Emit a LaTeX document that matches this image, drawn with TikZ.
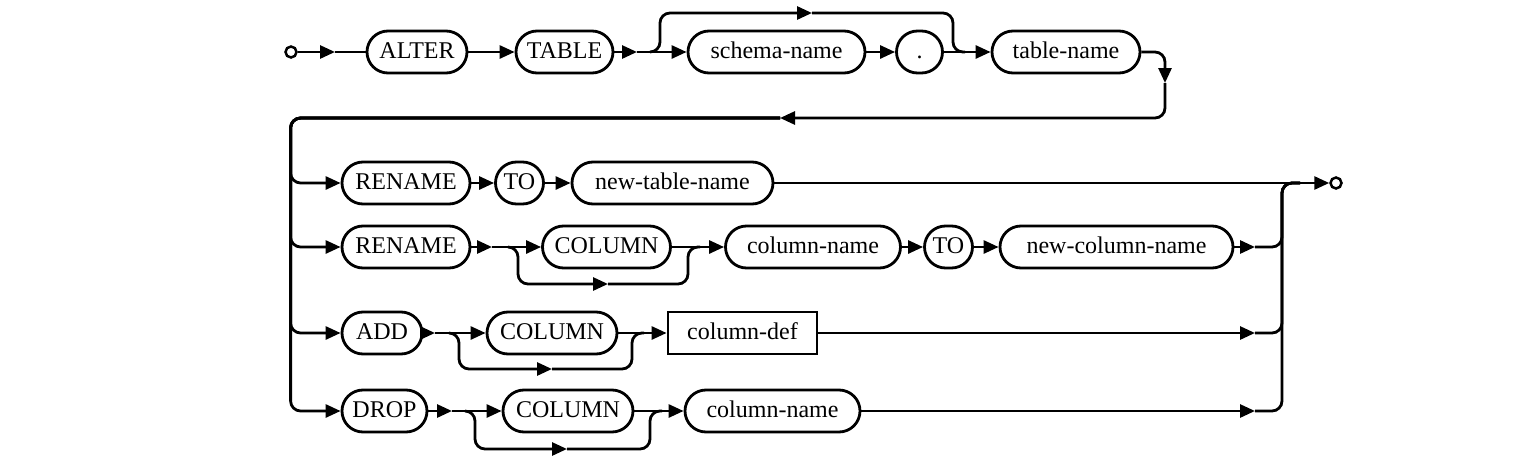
\documentclass[tikz,border=0pt]{standalone}
\usepackage{fontspec}
\setmainfont{Liberation Serif}
\usetikzlibrary{arrows.meta}
\tikzset{
  term/.style={draw, line width=2.8pt, rounded corners=21pt, minimum height=42pt, inner sep=0pt, text height=17.5pt, text depth=4pt, font=\fontsize{24pt}{28pt}\selectfont},
  nonterm/.style={draw, line width=2.8pt, rectangle, minimum height=42pt, inner sep=0pt, text height=17.5pt, text depth=4pt, font=\fontsize{24pt}{28pt}\selectfont},
  endpt/.style={draw, circle, line width=2.5pt, minimum size=11pt, inner sep=0pt},
  wire/.style={line width=2.8pt, rounded corners=10pt},
  arr/.style={wire, -{Triangle[length=15pt,width=13pt]}},
}
\begin{document}
\begin{tikzpicture}[x=1pt,y=-1pt]
\useasboundingbox (0,0) rectangle (1535,474);
% ---------- row 0 ----------
\node[endpt] (start) at (291,52) {};
\coordinate (a1) at (335,52);
\node[term, minimum width=100pt] (alter) at (417,52) {ALTER};
\node[term, minimum width=97pt] (table) at (564.5,52) {TABLE};
\coordinate (a2) at (637,52);
\node[term, minimum width=177pt] (schema) at (776.5,52) {schema-name};
\node[term, minimum width=46pt] (dot) at (919.5,52) {.};
\node[term, minimum width=148pt] (tname) at (1066,52) {table-name};
\coordinate (b1) at (650,52);
\coordinate (a3) at (812,13);
\coordinate (c1) at (965,52);
\coordinate (a4) at (1165,83);
\coordinate (a5) at (780,118);

\draw[arr] (start) -- (a1);
\draw[wire] (a1) -- (alter);
\draw[arr] (alter) -- (table);
\draw[arr] (table) -- (a2);
\draw[arr] (a2) -- (schema);
\draw[arr] (schema) -- (dot);
\draw[arr] (dot) -- (tname);
\draw[arr] (b1) -- ++(10,0) |- (a3);
\draw[wire] (a3) -| ([xshift=-12pt]c1) -- (c1);
\draw[arr] (tname.east) -| (a4);
\draw[arr] (a4) |- (a5);

% ---------- row 1 ----------
\node[term, minimum width=128pt] (ren1) at (406,183) {RENAME};
\node[term, minimum width=48pt] (to1) at (519.5,183) {TO};
\node[term, minimum width=201pt] (ntn) at (672.5,183) {new-table-name};
\node[endpt] (endc) at (1336,183) {};
\coordinate (m) at (1300,183);

\draw[arr] (a5) -| ([xshift=-50pt]ren1.west) -- (ren1.west);
\draw[arr] (ren1) -- (to1);
\draw[arr] (to1) -- (ntn);
\draw[arr] (ntn) -- (endc);

% ---------- row 2 ----------
\node[term, minimum width=128pt] (ren2) at (406,247) {RENAME};
\coordinate (a7) at (492,247);
\node[term, minimum width=128pt] (col2) at (606.5,247) {COLUMN};
\node[term, minimum width=175pt] (cn2) at (813,247) {column-name};
\node[term, minimum width=48pt] (to2) at (948.5,247) {TO};
\node[term, minimum width=233pt] (ncn) at (1116.5,247) {new-column-name};
\coordinate (b3) at (508,247);
\coordinate (a8) at (608,284);
\coordinate (c3) at (700,247);
\coordinate (r2) at (1255,247);

\draw[arr] (a5) -| ([xshift=-50pt]ren2.west) -- (ren2.west);
\draw[arr] (ren2) -- (a7);
\draw[arr] (a7) -- (col2);
\draw[arr] (b3) -- ++(10,0) |- (a8);
\draw[wire] (a8) -| ([xshift=-12pt]c3) -- (c3);
\draw[arr] (col2) -- (cn2);
\draw[arr] (cn2) -- (to2);
\draw[arr] (to2) -- (ncn);
\draw[arr] (ncn) -- (r2);
\draw[wire] (r2) -| ([xshift=-18pt]m) -- (m);

% ---------- row 3 ----------
\node[term, minimum width=80pt] (add) at (382,333) {ADD};
\coordinate (a9) at (435,333);
\node[term, minimum width=130pt] (col3) at (552,333) {COLUMN};
\node[nonterm, minimum width=149pt] (cdef) at (742.5,333) {column-def};
\coordinate (b4) at (449,333);
\coordinate (a10) at (552,369);
\coordinate (c4) at (644,333);
\coordinate (r3) at (1255,333);

\draw[arr] (a5) -| ([xshift=-50pt]add.west) -- (add.west);
\draw[arr] (add) -- (a9);
\draw[arr] (a9) -- (col3);
\draw[arr] (b4) -- ++(10,0) |- (a10);
\draw[wire] (a10) -| ([xshift=-12pt]c4) -- (c4);
\draw[arr] (col3) -- (cdef);
\draw[arr] (cdef) -- (r3);
\draw[wire] (r3) -| ([xshift=-18pt]m) -- (m);

% ---------- row 4 ----------
\node[term, minimum width=85pt] (drop) at (384.5,411) {DROP};
\coordinate (a11) at (452,411);
\node[term, minimum width=130pt] (col4) at (568,411) {COLUMN};
\node[term, minimum width=175pt] (cn4) at (772.5,411) {column-name};
\coordinate (b5) at (465,411);
\coordinate (a12) at (567,449);
\coordinate (c5) at (662,411);
\coordinate (r4) at (1255,411);

\draw[arr] (a5) -| ([xshift=-50pt]drop.west) -- (drop.west);
\draw[arr] (drop) -- (a11);
\draw[arr] (a11) -- (col4);
\draw[arr] (b5) -- ++(10,0) |- (a12);
\draw[wire] (a12) -| ([xshift=-12pt]c5) -- (c5);
\draw[arr] (col4) -- (cn4);
\draw[arr] (cn4) -- (r4);
\draw[wire] (r4) -| ([xshift=-18pt]m) -- (m);
\end{tikzpicture}
\end{document}
